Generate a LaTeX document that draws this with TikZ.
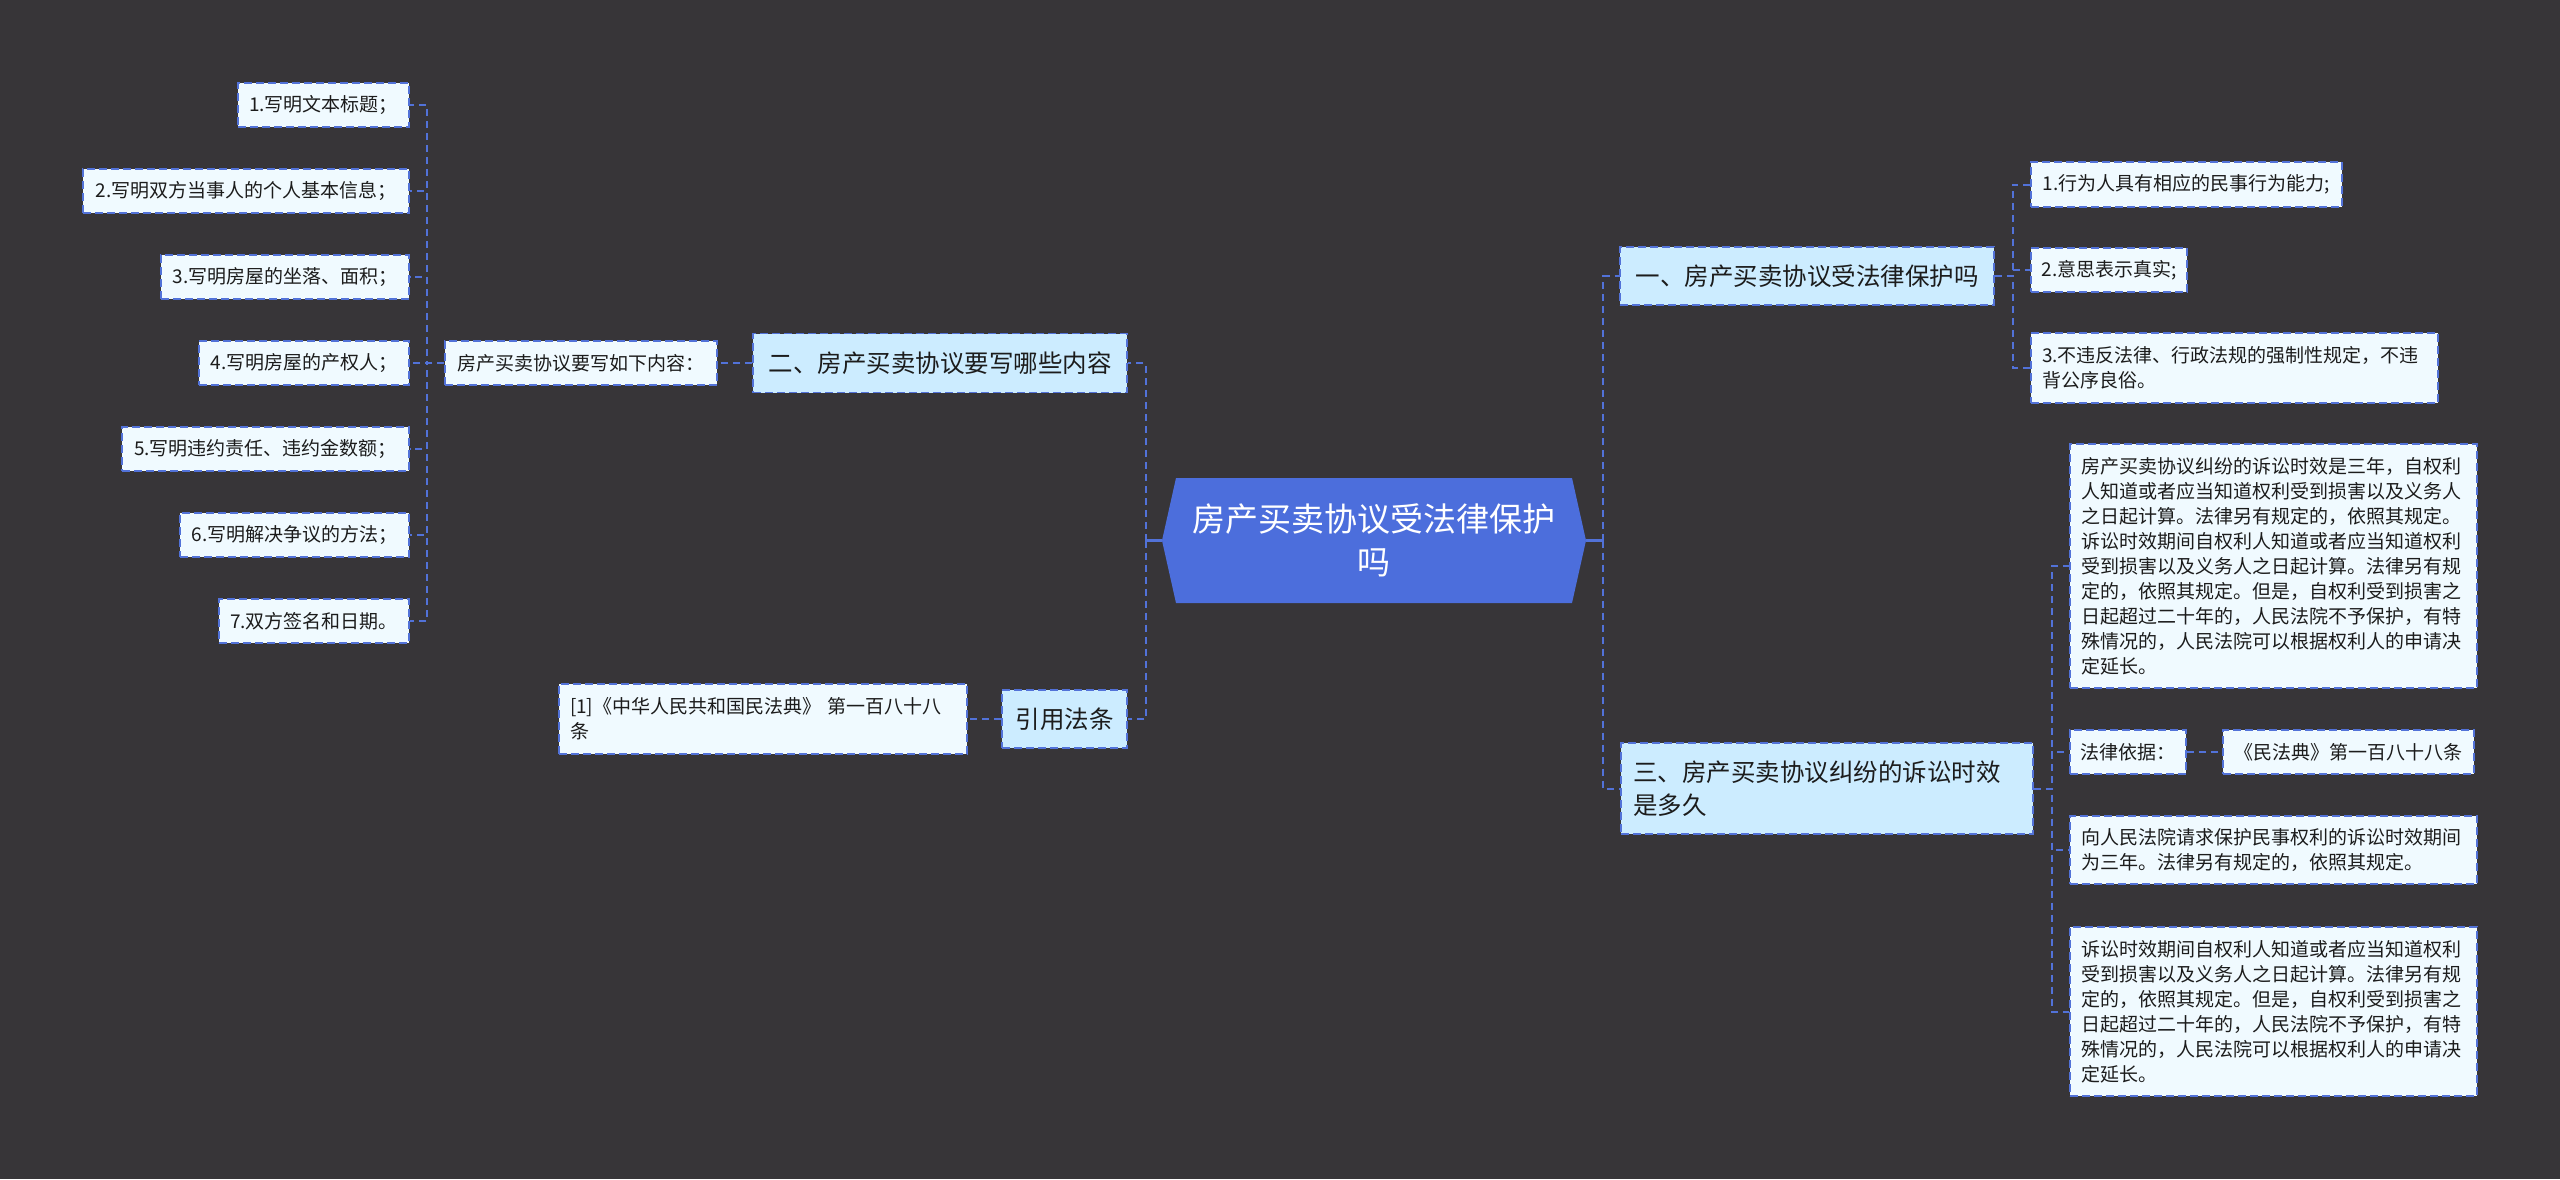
\documentclass[tikz,border=0pt]{standalone}
\usepackage{fontspec}
\setmainfont{Noto Sans CJK SC}
\usetikzlibrary{calc}
\definecolor{bg}{RGB}{55,53,56}
\definecolor{ln}{RGB}{82,114,216}
\definecolor{hexc}{RGB}{76,110,220}
\definecolor{ltwo}{RGB}{204,236,255}
\definecolor{lthree}{RGB}{240,250,255}
\definecolor{txt}{RGB}{28,28,28}
\tikzset{
  conn/.style={draw=ln, line width=2pt, dash pattern=on 7pt off 5pt},
  solidconn/.style={draw=ln, line width=2.5pt},
  box/.style={draw=ln, line width=1.8pt, dash pattern=on 8pt off 4pt, text=txt, inner sep=0pt, anchor=center},
  lvthree/.style={box, fill=lthree, font=\fontsize{19}{25}\selectfont},
  lvtwo/.style={box, fill=ltwo, font=\fontsize{24.5}{33}\selectfont},
  multi/.style={align=left, inner xsep=11pt, text width=#1},
}
\begin{document}
\begin{tikzpicture}[x=1pt,y=-1pt]
\useasboundingbox (0,0) rectangle (2560,1179);
\fill[bg] (0,0) rectangle (2560,1179);

% central hexagon
\coordinate (c0) at (1374,540.5);
\fill[hexc] ($(c0)+(-212,0)$) -- ($(c0)+(-198,-62.5)$) -- ($(c0)+(198,-62.5)$) -- ($(c0)+(212,0)$) -- ($(c0)+(198,62.5)$) -- ($(c0)+(-198,62.5)$) -- cycle;
\node[inner sep=0pt, minimum width=424pt, minimum height=125pt, align=center, text=white, font=\fontsize{33}{43}\selectfont] (c) at (c0) {房产买卖协议受法律保护\\吗};

% left level 2
\node[lvtwo, minimum width=374pt, minimum height=59pt] (two) at (940,363) {二、房产买卖协议要写哪些内容};
\node[lvtwo, minimum width=125pt, minimum height=58pt] (cite) at (1064.5,719) {引用法条};

% left level 3
\node[lvthree, minimum width=272pt, minimum height=44pt] (m) at (581,363) {房产买卖协议要写如下内容：};
\node[lvthree, minimum width=171pt, minimum height=44pt] (n1) at (323.5,105) {1.写明文本标题；};
\node[lvthree, minimum width=326pt, minimum height=44pt] (n2) at (246,191) {2.写明双方当事人的个人基本信息；};
\node[lvthree, minimum width=248pt, minimum height=44pt] (n3) at (285,277) {3.写明房屋的坐落、面积；};
\node[lvthree, minimum width=210pt, minimum height=44pt] (n4) at (304,363) {4.写明房屋的产权人；};
\node[lvthree, minimum width=287pt, minimum height=44pt] (n5) at (265.5,449) {5.写明违约责任、违约金数额；};
\node[lvthree, minimum width=229pt, minimum height=44pt] (n6) at (294.5,535) {6.写明解决争议的方法；};
\node[lvthree, minimum width=190pt, minimum height=44pt] (n7) at (314,621) {7.双方签名和日期。};
\node[lvthree, multi=386pt, minimum height=70pt] (law) at (763,719) {[1]《中华人民共和国民法典》 第一百八十八\\条};

% right level 2
\node[lvtwo, minimum width=374pt, minimum height=58pt] (one) at (1807,276) {一、房产买卖协议受法律保护吗};
\node[lvtwo, multi=388pt, inner xsep=12pt, minimum height=91pt] (three) at (1827,788.5) {三、房产买卖协议纠纷的诉讼时效\\是多久};

% right level 3 under one
\node[lvthree, minimum width=311pt, minimum height=45pt] (r1) at (2186.5,184.5) {1.行为人具有相应的民事行为能力;};
\node[lvthree, minimum width=156pt, minimum height=44pt] (r2) at (2109,270) {2.意思表示真实;};
\node[lvthree, multi=385pt, minimum height=70pt] (r3) at (2234.5,368) {3.不违反法律、行政法规的强制性规定，不违\\背公序良俗。};

% right level 3 under three
\node[lvthree, multi=385pt, minimum height=244pt] (t1) at (2273.5,566) {房产买卖协议纠纷的诉讼时效是三年，自权利\\人知道或者应当知道权利受到损害以及义务人\\之日起计算。法律另有规定的，依照其规定。\\诉讼时效期间自权利人知道或者应当知道权利\\受到损害以及义务人之日起计算。法律另有规\\定的，依照其规定。但是，自权利受到损害之\\日起超过二十年的，人民法院不予保护，有特\\殊情况的，人民法院可以根据权利人的申请决\\定延长。};
\node[lvthree, minimum width=116pt, minimum height=44pt] (t2) at (2128,752) {法律依据：};
\node[lvthree, minimum width=251pt, minimum height=44pt] (t2b) at (2348.5,752) {《民法典》第一百八十八条};
\node[lvthree, multi=385pt, minimum height=68pt] (t3) at (2273.5,850) {向人民法院请求保护民事权利的诉讼时效期间\\为三年。法律另有规定的，依照其规定。};
\node[lvthree, multi=385pt, minimum height=169pt] (t4) at (2273.5,1011.5) {诉讼时效期间自权利人知道或者应当知道权利\\受到损害以及义务人之日起计算。法律另有规\\定的，依照其规定。但是，自权利受到损害之\\日起超过二十年的，人民法院不予保护，有特\\殊情况的，人民法院可以根据权利人的申请决\\定延长。};

% connectors from center
\draw[solidconn] (c.west) -- ++(-16,0) coordinate (lt);
\draw[solidconn] (c.east) -- ++(17,0) coordinate (rt);
\draw[conn] (lt) |- (two.east);
\draw[conn] (lt) |- (cite.east);
\draw[conn] (rt) |- (one.west);
\draw[conn] (rt) |- (three.west);

% left side
\draw[conn] (two.west) -- (m.east);
\foreach \k in {n1,n2,n3,n4,n5,n6,n7}{
  \draw[conn] (m.west) -- ++(-17,0) |- (\k.east);
}
\draw[conn] (cite.west) -- (law.east);

% right side
\foreach \k in {r1,r2,r3}{
  \draw[conn] (one.east) -- ++(18,0) |- (\k.west);
}
\foreach \k in {t1,t2,t3,t4}{
  \draw[conn] (three.east) -- ++(18,0) |- (\k.west);
}
\draw[conn] (t2.east) -- (t2b.west);
\end{tikzpicture}
\end{document}
